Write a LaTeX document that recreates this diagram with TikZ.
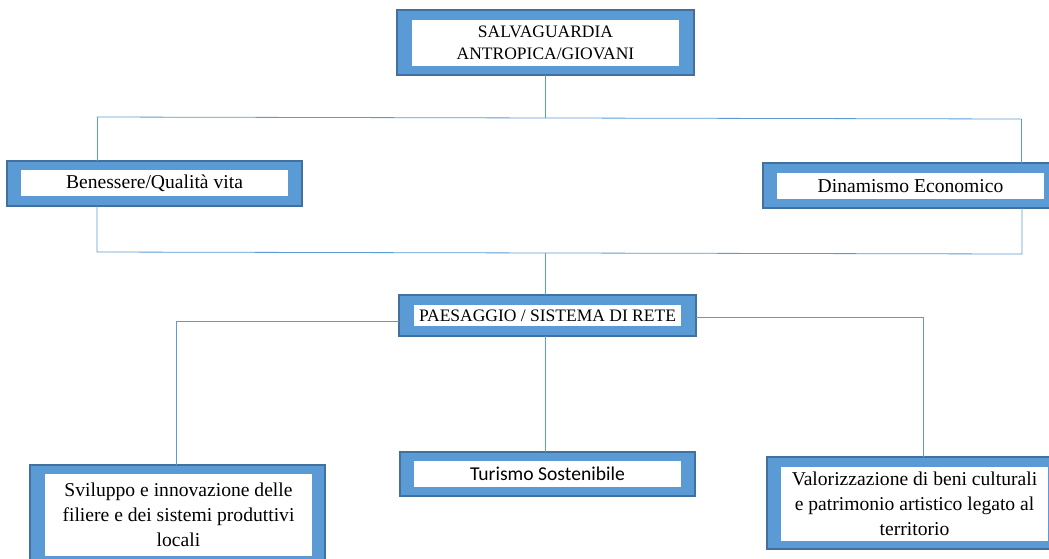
\documentclass[tikz,border=0pt]{standalone}
\usepackage{fontspec}
\setmainfont{Liberation Serif}
\newfontfamily\calibrifont{Carlito}
\definecolor{boxblue}{HTML}{5B9BD5}
\definecolor{boxedge}{HTML}{41719C}
\definecolor{linkblue}{HTML}{5B9BD5}
\begin{document}
\begin{tikzpicture}[x=1pt,y=-1pt,
  outerbox/.style={rectangle, fill=boxblue, draw=boxedge, line width=1.5pt, inner sep=0pt, outer sep=0pt},
  innerbox/.style={rectangle, fill=white, draw=none, inner sep=0pt, outer sep=0pt, align=center, text=black},
  bigtext/.style={font=\fontsize{19.6}{25}\selectfont},
  smalltext/.style={font=\fontsize{17.5}{22.5}\selectfont},
  conn/.style={draw=linkblue, line width=0.8pt}]
\useasboundingbox (0,0) rectangle (1049,558);
\clip (0,0) rectangle (1049,558);
\fill[white] (0,0) rectangle (1049,558);

% boxes
\node[outerbox, minimum width=297pt, minimum height=65pt] (top) at (545.5,42.5) {};
\node[innerbox, smalltext, minimum width=267pt, minimum height=46pt] (topin) at (545.5,43) {SALVAGUARDIA\\ANTROPICA/GIOVANI};

\node[outerbox, minimum width=295pt, minimum height=45pt] (ben) at (154.5,183.5) {};
\node[innerbox, bigtext, minimum width=267pt, minimum height=26pt] (benin) at (154.5,183) {Benessere/Qualità vita};

\node[outerbox, minimum width=295pt, minimum height=45pt] (din) at (910.5,185.5) {};
\node[innerbox, bigtext, minimum width=267pt, minimum height=26pt] (dinin) at (910.5,186) {Dinamismo Economico};

\node[outerbox, minimum width=297pt, minimum height=41pt] (pae) at (547.5,315.5) {};
\node[innerbox, smalltext, minimum width=267pt, minimum height=21pt] (paein) at (547.5,315.5) {PAESAGGIO / SISTEMA DI RETE};

\node[outerbox, minimum width=295pt, minimum height=44pt] (tur) at (547.5,474) {};
\node[innerbox, font=\calibrifont\fontsize{19.6}{25}\selectfont, minimum width=267pt, minimum height=26pt] (turin) at (547.5,474) {Turismo Sostenibile};

\node[outerbox, minimum width=295pt, minimum height=105pt] (svi) at (177.5,517.5) {};
\node[innerbox, bigtext, minimum width=267pt, minimum height=82pt] (sviin) at (178.5,515) {Sviluppo e innovazione delle\\filiere e dei sistemi produttivi\\locali};

\node[outerbox, minimum width=295pt, minimum height=92pt] (val) at (914.5,503) {};
\node[innerbox, bigtext, minimum width=267pt, minimum height=74pt] (valin) at (914.5,504) {Valorizzazione di beni culturali\\e patrimonio artistico legato al\\territorio};

% junction coordinates
\coordinate (j1) at (545,118);
\coordinate (jTL) at (97,117);
\coordinate (jTR) at (1021,119);
\coordinate (jBL) at (97,252);
\coordinate (jBR) at (1022,254);
\coordinate (j2) at (545,253);
\coordinate (jPL) at (176,321);
\coordinate (jPR) at (923,317);

% connectors
\draw[conn] (top.south -| j1) -- (j1);
\draw[conn] (jTL) -- (jTR);
\draw[conn] (jTL) -- (jTL |- ben.north);
\draw[conn] (jTR) -- (jTR |- din.north);
\draw[conn] (jBL |- ben.south) -- (jBL) -- (jBR) -- (jBR |- din.south);
\draw[conn] (j2) -- (j2 |- pae.north);
\draw[conn] (pae.west |- jPL) -- (jPL) -- (jPL |- svi.north);
\draw[conn] (pae.east |- jPR) -- (jPR) -- (jPR |- val.north);
\draw[conn] (pae.south -| j2) -- (j2 |- tur.north);
\end{tikzpicture}
\end{document}
